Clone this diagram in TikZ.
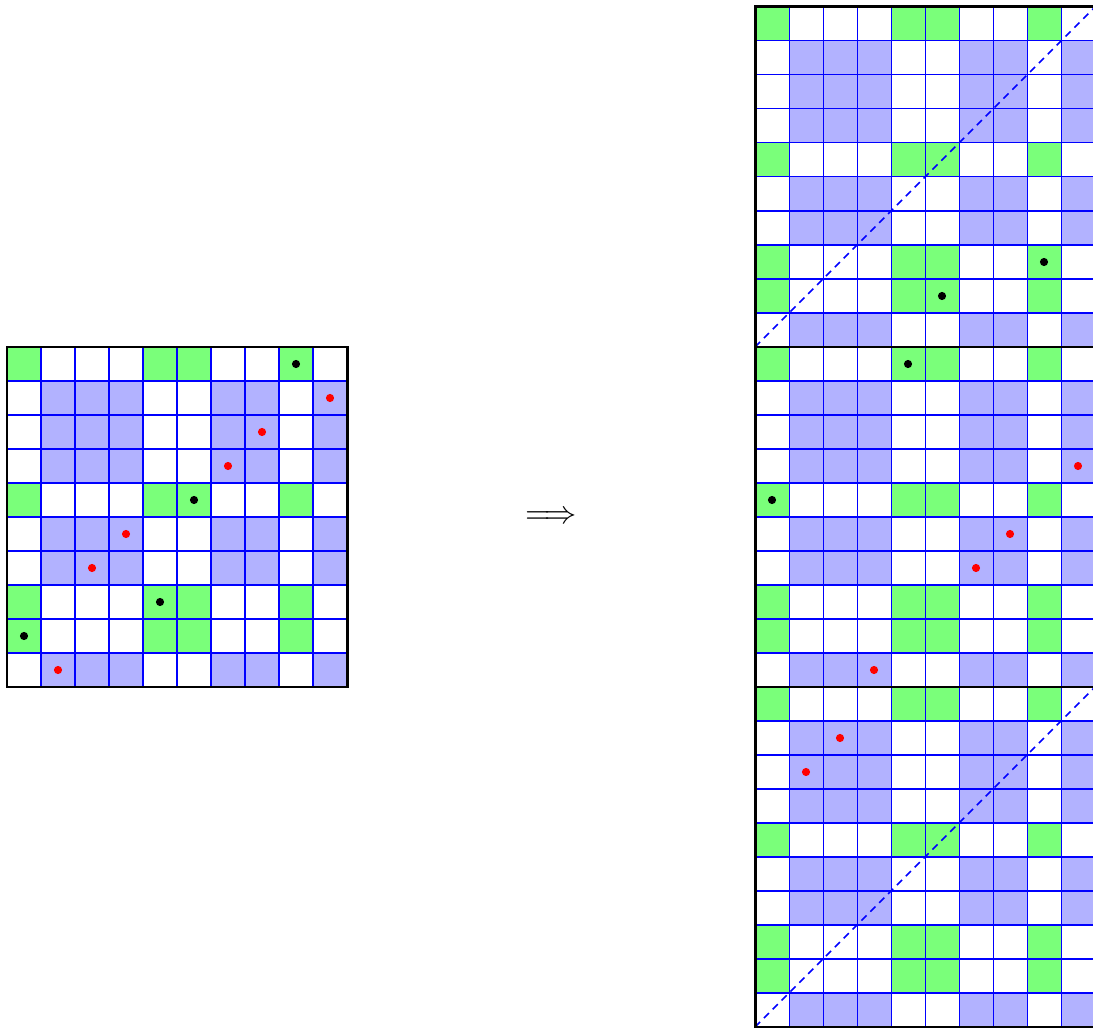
\documentclass[tikz,border=0pt]{standalone}
\usepackage{amsmath}
\begin{document}
\begin{tikzpicture}[
  gcell/.style={fill=green!52},
  bcell/.style={fill=blue!30},
  gridline/.style={draw=blue, line width=0.85pt},
  border/.style={draw=black, line width=2.5pt},
  blackdot/.style={fill=black},
  reddot/.style={fill=red},
  diag/.style={draw=blue, line width=1.3pt, dash pattern=on 6pt off 4.5pt}
]
\useasboundingbox (-0.2059,-10.029) rectangle (31.941,20.206);
\clip (-0.2059,-10.029) rectangle (31.941,20.206);
% coloured cells and grids
\foreach \bx/\by in {0/0, 22/10, 22/0, 22/-10} {
  \begin{scope}[shift={(\bx,\by)}]
    \foreach \r in {0,4,7,8} \foreach \c in {0,4,5,8}
      \fill[gcell] (\c,9-\r) rectangle ++(1,1);
    \foreach \r in {1,2,3,5,6,9} \foreach \c in {1,2,3,6,7,9}
      \fill[bcell] (\c,9-\r) rectangle ++(1,1);
    \draw[gridline] (0,0) grid (10,10);
  \end{scope}
}
% dashed diagonals
\coordinate (d1a) at (22,10); \coordinate (d1b) at (32,20);
\coordinate (d2a) at (22,-10); \coordinate (d2b) at (32,0);
\draw[diag] (d1a) -- (d1b);
\draw[diag] (d2a) -- (d2b);
% borders
\foreach \bx/\by in {0/0, 22/10, 22/0, 22/-10}
  \draw[border] (\bx,\by) rectangle ++(10,10);
% dots on the left grid (row from top / column)
\foreach \r/\c/\s in {0/8/blackdot, 1/9/reddot, 2/7/reddot, 3/6/reddot, 4/5/blackdot,
                      5/3/reddot, 6/2/reddot, 7/4/blackdot, 8/0/blackdot, 9/1/reddot}
  \fill[\s] (\c+0.5,9.5-\r) circle (0.12);
% dots on the right grid
\foreach \r/\c/\s in {7/8/blackdot, 8/5/blackdot, 10/4/blackdot, 13/9/reddot, 14/0/blackdot,
                      15/7/reddot, 16/6/reddot, 19/3/reddot, 21/2/reddot, 22/1/reddot}
  \fill[\s] (22+\c+0.5,19.5-\r) circle (0.12);
% implication arrow
\node[scale=2.7] (impl) at (16,4.98) {$\Longrightarrow$};
\end{tikzpicture}
\end{document}
